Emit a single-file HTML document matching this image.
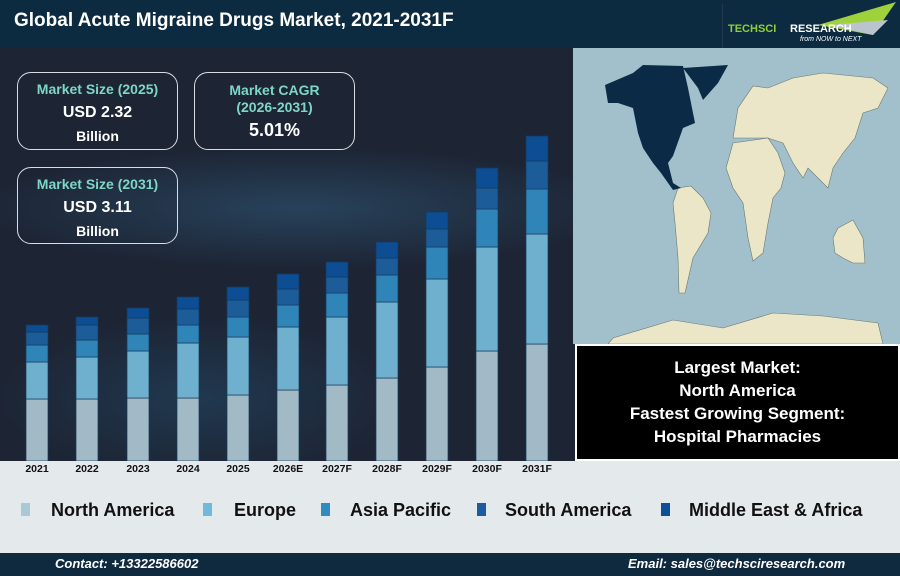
<!DOCTYPE html>
<html><head><meta charset="utf-8"><style>
*{margin:0;padding:0;box-sizing:border-box}
body{width:900px;height:576px;overflow:hidden;font-family:"Liberation Sans",sans-serif;background:#1d2535;position:relative}
.abs{position:absolute}
.box{position:absolute;border:1.5px solid #d8dde2;border-radius:14px;text-align:center;font-weight:bold;color:#fff}
.box .t{color:#7ed6c6;font-size:14px}
.box .v{font-size:16px}
.lg{position:absolute;top:503px;width:9px;height:13px}
.lt{position:absolute;top:500px;font-size:18px;font-weight:bold;color:#111}
</style></head><body>
<div class="abs" style="left:0;top:0;width:900px;height:48px;background:#0c2a40"></div>
<div class="abs" style="left:14px;top:10px;font-size:19px;font-weight:bold;color:#fff">Global Acute Migraine Drugs Market, 2021-2031F</div>
<div class="abs" style="left:722px;top:4px;width:178px;height:44px;background:#0c2a40;border-left:1px solid #1f3a50"></div>
<svg class="abs" style="left:728px;top:0" width="172" height="48">
<polygon points="90,25 168,2 145,35" fill="#9fd23a"/><polygon points="100,25 160,20 145,35" fill="#b9c4cc"/>
<text x="0" y="32" font-family="Liberation Sans" font-size="11" font-weight="bold" fill="#8fcf3a">TECHSCI</text>
<text x="62" y="32" font-family="Liberation Sans" font-size="11" font-weight="bold" fill="#fff">RESEARCH</text>
<text x="72" y="41" font-family="Liberation Sans" font-size="7" font-style="italic" fill="#fff">from NOW to NEXT</text>
</svg>
<div class="abs" style="left:0;top:48px;width:573px;height:414px;background:radial-gradient(ellipse 320px 60px at 300px 160px,rgba(60,120,160,.35),transparent),radial-gradient(ellipse 200px 80px at 200px 350px,rgba(40,100,140,.3),transparent)"></div>
<div class="box" style="left:17px;top:72px;width:161px;height:78px;padding-top:8px"><div class="t">Market Size (2025)</div><div class="v" style="margin-top:7px">USD 2.32</div><div class="v" style="font-size:14px;margin-top:6px">Billion</div></div>
<div class="box" style="left:194px;top:72px;width:161px;height:78px;padding-top:9px"><div class="t" style="line-height:17px">Market CAGR<br>(2026-2031)</div><div class="v" style="font-size:18px;margin-top:4px">5.01%</div></div>
<div class="box" style="left:17px;top:167px;width:161px;height:77px;padding-top:8px"><div class="t">Market Size (2031)</div><div class="v" style="margin-top:7px">USD 3.11</div><div class="v" style="font-size:14px;margin-top:6px">Billion</div></div>
<svg class="abs" style="left:0;top:0" width="573" height="476" id="ch"></svg>
<div class="abs" style="left:0;top:461px;width:900px;height:92px;background:#e4e9eb"></div>
<svg class="abs" style="left:0;top:460px" width="573" height="16" id="lab"></svg>
<div class="lg" style="left:21px;background:#a9c9d9"></div><div class="lt" style="left:51px">North America</div>
<div class="lg" style="left:203px;background:#6fb9dc"></div><div class="lt" style="left:234px">Europe</div>
<div class="lg" style="left:321px;background:#2f8cc0"></div><div class="lt" style="left:350px">Asia Pacific</div>
<div class="lg" style="left:477px;background:#1c5b9e"></div><div class="lt" style="left:505px">South America</div>
<div class="lg" style="left:661px;background:#0d4f98"></div><div class="lt" style="left:689px">Middle East &amp; Africa</div>
<div class="abs" style="left:0;top:553px;width:900px;height:23px;background:#0f2a3e"></div>
<div class="abs" style="left:55px;top:556px;font-size:13px;font-weight:bold;font-style:italic;color:#fff">Contact: +13322586602</div>
<div class="abs" style="left:628px;top:556px;font-size:13px;font-weight:bold;font-style:italic;color:#fff">Email: sales@techsciresearch.com</div>
<svg class="abs" style="left:573px;top:48px" width="327" height="296">
<rect width="327" height="296" fill="#a2bfcc"/>
<g fill="#ece6c8" stroke="#6a7a70" stroke-width=".6">
<polygon points="160,90 165,60 180,38 195,40 220,30 250,25 300,30 315,40 305,60 290,65 282,90 270,105 260,120 255,140 245,130 235,120 230,130 220,115 210,95 195,90 175,90"/>
<polygon points="160,95 195,90 205,105 212,125 208,140 200,150 195,175 190,205 180,213 175,190 170,155 160,140 153,120"/>
<polygon points="105,140 118,138 130,150 138,165 135,185 120,210 112,245 106,245 105,210 102,175 100,155"/>
<polygon points="265,180 280,172 290,190 292,215 280,215 270,210 262,205 260,190"/>
<polygon points="40,290 100,272 150,280 200,265 250,268 305,275 310,296 35,296"/>
</g>
<g fill="#0b2a45"><polygon points="32,37 60,25 70,17 110,18 115,40 122,75 110,80 100,108 95,115 100,135 108,140 100,142 88,125 80,115 70,100 65,85 60,60 45,55 35,55"/>
<polygon points="110,20 155,17 145,35 130,52 125,40"/></g>
</svg>
<div class="abs" style="left:575px;top:344px;width:325px;height:117px;background:#000;border:2px solid #fff;color:#fff;font-weight:bold;font-size:17px;text-align:center;line-height:23px;padding-top:10px">Largest Market:<br>North America<br>Fastest Growing Segment:<br>Hospital Pharmacies</div>
<script>
var d=[[399,362,345,332,325],[399,357,340,325,317],[398,351,334,318,308],[398,343,325,309,297],[395,337,317,300,287],[390,327,305,289,274],[385,317,293,277,262],[378,302,275,258,242],[367,279,247,229,212],[351,247,209,188,168],[344,234,189,161,136]];
var xs=[26,76,127,177,227,277,326,376,426,476,526];
var lb=["2021","2022","2023","2024","2025","2026E","2027F","2028F","2029F","2030F","2031F"];
var c=["#a2b9c6","#6fb0cf","#2f85b8","#1c5c99","#0d4d94"];
var s="",l="";
for(var i=0;i<11;i++){var b=461;for(var j=0;j<5;j++){var t=d[i][j];s+='<rect x="'+xs[i]+'" y="'+t+'" width="22" height="'+(b-t)+'" fill="'+c[j]+'" stroke="#163a5a" stroke-width="0.7"/>';b=t;}
l+='<text x="'+(xs[i]+11)+'" y="12" text-anchor="middle" font-family="Liberation Sans" font-size="10.5" font-weight="bold" fill="#111">'+lb[i]+'</text>';}
document.getElementById("ch").innerHTML=s;document.getElementById("lab").innerHTML=l;
</script>
</body></html>
